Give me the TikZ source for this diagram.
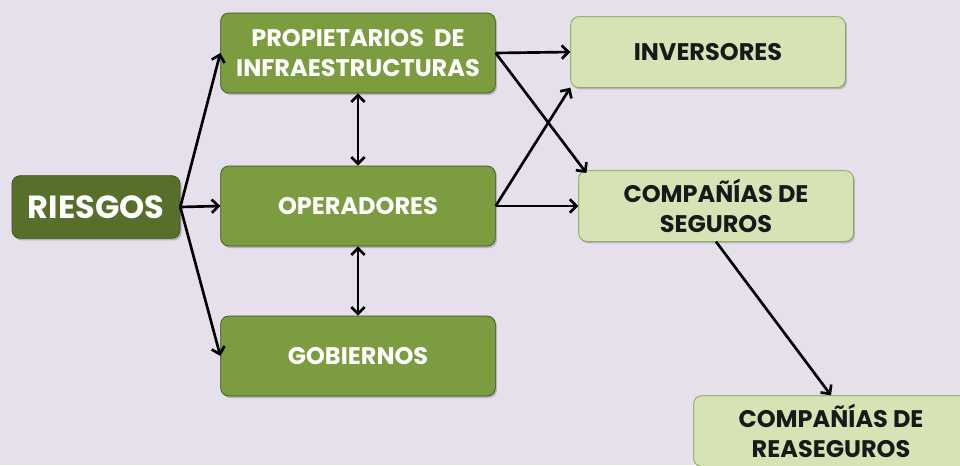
\documentclass[tikz,border=0pt]{standalone}
\usepackage{fontspec}
\setmainfont{Poppins}
\usepackage{xcolor}
\usetikzlibrary{shadows,arrows.meta}
\definecolor{fondo}{HTML}{E5E0EC}
\definecolor{verdeosc}{HTML}{56702C}
\definecolor{verde}{HTML}{7B9C3F}
\definecolor{verdecl}{HTML}{D5E3B5}

\begin{document}
\begin{tikzpicture}[x=0.75pt,y=-0.75pt,
    caja/.style={rectangle, rounded corners=6pt, draw=verdeosc!70!black, line width=0.5pt,
        minimum width=206pt, minimum height=60pt, align=center,
        font=\bfseries\fontsize{18}{22.5}\selectfont,
        drop shadow={shadow xshift=1.2pt, shadow yshift=-1.5pt, opacity=0.45}},
    oscura/.style={caja, fill=verdeosc, text=white, minimum width=126pt, minimum height=47pt,
        font=\bfseries\fontsize{24}{26}\selectfont},
    media/.style={caja, fill=verde, text=white},
    clara/.style={caja, fill=verdecl, text=black!90, draw=verde, minimum height=53pt},
    flecha/.style={-{Straight Barb[length=5pt,width=10pt]}, line width=2pt},
    doble/.style={{Straight Barb[length=5pt,width=10pt]}-{Straight Barb[length=5pt,width=10pt]}, line width=2pt}]
    \fill[fondo] (0,0) rectangle (960,465);
    \useasboundingbox (0,0) rectangle (960,465);
        \node at (96,207) [oscura] (riesgos) {RIESGOS};
        \node at (358,53) [media] (propietarios) {PROPIETARIOS\ \ DE\\INFRAESTRUCTURAS};
        \node at (358,206) [media] (operadores) {OPERADORES};
        \node at (358,356) [media] (gobiernos) {GOBIERNOS};
        \node at (708,52) [clara] (inversores) {INVERSORES};
        \node at (716,206) [clara] (seguros) {COMPAÑÍAS DE\\SEGUROS};
        \node at (831,431) [clara] (reaseguros) {COMPAÑÍAS DE\\REASEGUROS};
        % desde riesgos
        \draw[flecha] (riesgos.east) -- (propietarios.west);
        \draw[flecha] (riesgos.east) -- (operadores.west);
        \draw[flecha] (riesgos.east) -- (gobiernos.west);
        % entre los actores
        \draw[doble] (propietarios.south) -- (operadores.north);
        \draw[doble] (operadores.south) -- (gobiernos.north);
        % hacia inversores y seguros
        \draw[flecha] (propietarios.east) -- (inversores.west);
        \draw[flecha] (propietarios.east) -- ([xshift=6pt,yshift=-2pt]seguros.north west);
        \draw[flecha] (operadores.east) -- (inversores.south west);
        \draw[flecha] (operadores.east) -- (seguros.west);
        \draw[flecha] (seguros.south) -- (reaseguros.north);
    \end{tikzpicture}
\end{document}
